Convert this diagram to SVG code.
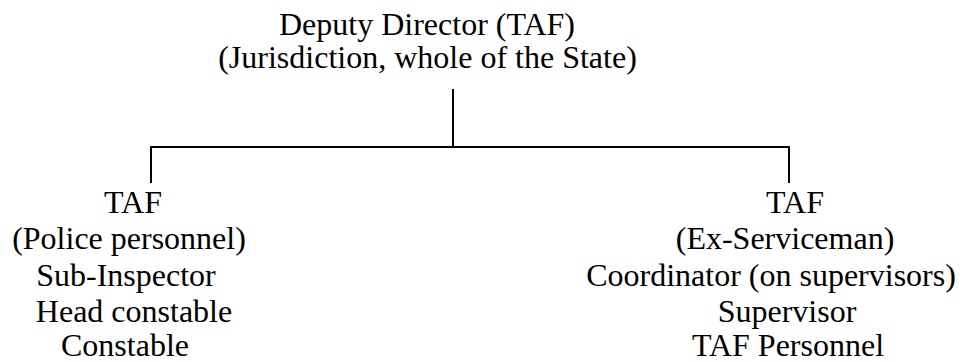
<svg xmlns="http://www.w3.org/2000/svg" width="963" height="362" viewBox="0 0 963 362">
<style>
text{font-family:'Liberation Serif','Tinos','Times New Roman','DejaVu Serif',serif;font-size:32px;fill:#000;text-anchor:middle}
.c{stroke:#000;stroke-width:2;fill:none}
</style>
<rect width="963" height="362" fill="#fff"/>
<g id="connectors">
<line class="c" x1="453" y1="89" x2="453" y2="147"/>
<line class="c" x1="150" y1="147" x2="790" y2="147"/>
<line class="c" x1="151" y1="146" x2="151" y2="183"/>
<line class="c" x1="789" y1="146" x2="789" y2="183"/>
</g>
<g id="root">
<text x="427" y="35">Deputy Director (TAF)</text>
<text x="427.5" y="68">(Jurisdiction, whole of the State)</text>
</g>
<g id="police">
<text x="133" y="213">TAF</text>
<text x="129" y="249">(Police personnel)</text>
<text x="126" y="286">Sub-Inspector</text>
<text x="134" y="322">Head constable</text>
<text x="125" y="356">Constable</text>
</g>
<g id="exservice">
<text x="795" y="213">TAF</text>
<text x="785" y="249">(Ex-Serviceman)</text>
<text x="771" y="286">Coordinator (on supervisors)</text>
<text x="787" y="322">Supervisor</text>
<text x="788" y="356">TAF Personnel</text>
</g>
</svg>
